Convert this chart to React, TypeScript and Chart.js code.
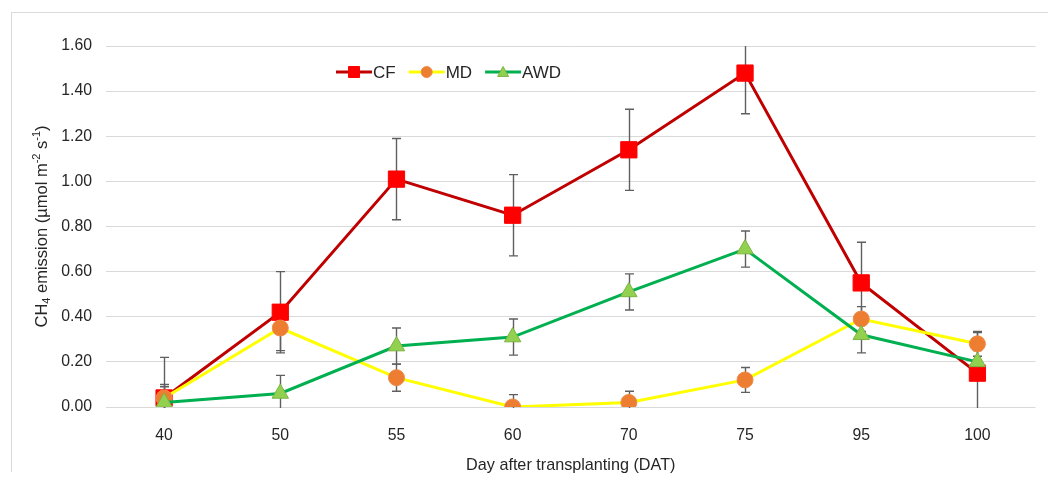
import React, { useEffect, useRef } from "react";
import { Chart, registerables } from "chart.js";

Chart.register(...registerables);

// ---- data ----
const categories = ["40", "50", "55", "60", "70", "75", "95", "100"];
const seriesNames = ["CF", "MD", "AWD"];
const cfValues = [0.04, 0.42, 1.01, 0.85, 1.14, 1.48, 0.55, 0.15];
const mdValues = [0.04, 0.35, 0.13, 0.0, 0.02, 0.12, 0.39, 0.28];
const awdValues = [0.02, 0.06, 0.27, 0.31, 0.51, 0.7, 0.32, 0.2];
const cfErrors = [0.18, 0.18, 0.18, 0.18, 0.18, 0.18, 0.18, 0.18];
const mdErrors = [0.05, 0.1, 0.06, 0.055, 0.05, 0.055, 0.055, 0.055];
const awdErrors = [0.08, 0.08, 0.08, 0.08, 0.08, 0.08, 0.08, 0.05];
const yTicks = [0, 0.2, 0.4, 0.6, 0.8, 1.0, 1.2, 1.4, 1.6];
const xTitle = "Day after transplanting (DAT)";

const FONT = "'Liberation Sans', Arial, sans-serif";
const TEXT = "#262626";
const errorsByDataset = [cfErrors, mdErrors, awdErrors];

const errorBarPlugin = {
  id: "errorBars",
  beforeDatasetsDraw(chart: any) {
    const { ctx, chartArea } = chart;
    const yScale = chart.scales.y;
    ctx.save();
    ctx.beginPath();
    ctx.rect(chartArea.left, chartArea.top, chartArea.right - chartArea.left, chartArea.bottom - chartArea.top + 1);
    ctx.clip();
    ctx.strokeStyle = "#5f5f5f";
    ctx.lineWidth = 1.4;
    chart.data.datasets.forEach((ds: any, i: number) => {
      const meta = chart.getDatasetMeta(i);
      const errs = errorsByDataset[i];
      meta.data.forEach((pt: any, j: number) => {
        const v = ds.data[j];
        const e = errs[j];
        const x = Math.round(pt.x) + 0.5;
        const yt = yScale.getPixelForValue(v + e);
        const yb = yScale.getPixelForValue(v - e);
        ctx.beginPath();
        ctx.moveTo(x, yt);
        ctx.lineTo(x, yb);
        ctx.moveTo(x - 4.5, yt);
        ctx.lineTo(x + 4.5, yt);
        ctx.moveTo(x - 4.5, yb);
        ctx.lineTo(x + 4.5, yb);
        ctx.stroke();
      });
    });
    ctx.restore();
  },
};

function drawMarker(ctx: CanvasRenderingContext2D, style: string, x: number, y: number, fill: string, stroke: string, size: number) {
  ctx.save();
  ctx.fillStyle = fill;
  ctx.strokeStyle = stroke;
  ctx.lineWidth = 1;
  ctx.beginPath();
  if (style === "rect") {
    ctx.rect(x - size / 2, y - size / 2, size, size);
  } else if (style === "circle") {
    ctx.arc(x, y, size / 2, 0, Math.PI * 2);
  } else {
    const r = size / 2;
    ctx.moveTo(x, y - r);
    ctx.lineTo(x + r, y + r * 0.8);
    ctx.lineTo(x - r, y + r * 0.8);
    ctx.closePath();
  }
  ctx.fill();
  ctx.stroke();
  ctx.restore();
}

const legendPlugin = {
  id: "customLegend",
  afterDraw(chart: any) {
    const { ctx, chartArea } = chart;
    const y = chartArea.top + 26;
    let x = chartArea.left + 230;
    ctx.save();
    ctx.font = `17px ${FONT}`;
    ctx.textBaseline = "middle";
    chart.data.datasets.forEach((ds: any) => {
      ctx.strokeStyle = ds.borderColor;
      ctx.lineWidth = 3;
      ctx.beginPath();
      ctx.moveTo(x, y);
      ctx.lineTo(x + 36, y);
      ctx.stroke();
      drawMarker(ctx, ds.pointStyle, x + 18, y, ds.pointBackgroundColor, ds.pointBorderColor, 11);
      ctx.fillStyle = TEXT;
      ctx.fillText(ds.label, x + 37, y + 1);
      x += 37 + ctx.measureText(ds.label).width + 13;
    });
    ctx.restore();
  },
};

const yTitlePlugin = {
  id: "yTitle",
  afterDraw(chart: any) {
    const { ctx, chartArea } = chart;
    const cy = (chartArea.top + chartArea.bottom) / 2;
    const segs = [
      { t: "CH", s: 0 },
      { t: "4", s: 1 },
      { t: " emission (µmol m", s: 0 },
      { t: "-2", s: -1 },
      { t: " s", s: 0 },
      { t: "-1", s: -1 },
      { t: ")", s: 0 },
    ];
    const fontFor = (s: number) => (s === 0 ? `16.5px ${FONT}` : `11px ${FONT}`);
    ctx.save();
    ctx.translate(46.5, cy);
    ctx.rotate(-Math.PI / 2);
    ctx.textBaseline = "alphabetic";
    ctx.textAlign = "left";
    ctx.fillStyle = TEXT;
    let total = 0;
    segs.forEach((sg) => {
      ctx.font = fontFor(sg.s);
      total += ctx.measureText(sg.t).width;
    });
    let x = -total / 2;
    segs.forEach((sg) => {
      ctx.font = fontFor(sg.s);
      const dy = sg.s === 1 ? 3 : sg.s === -1 ? -6.5 : 0;
      ctx.fillText(sg.t, x, dy);
      x += ctx.measureText(sg.t).width;
    });
    ctx.restore();
  },
};

export default function App() {
  const ref = useRef<HTMLCanvasElement>(null);
  useEffect(() => {
    if (!ref.current) return;
    const chart = new Chart(ref.current, {
      type: "line",
      data: {
        labels: categories,
        datasets: [
          {
            label: seriesNames[0],
            data: cfValues,
            borderColor: "#C00000",
            borderWidth: 3,
            pointStyle: "rect",
            pointRadius: 11.5,
            pointBackgroundColor: "#FF0000",
            pointBorderColor: "#FF0000",
            pointBorderWidth: 1,
            tension: 0,
            fill: false,
            order: 3,
          },
          {
            label: seriesNames[1],
            data: mdValues,
            borderColor: "#FFFF00",
            borderWidth: 3,
            pointStyle: "circle",
            pointRadius: 8,
            pointBackgroundColor: "#ED7D31",
            pointBorderColor: "#F08A45",
            pointBorderWidth: 1,
            tension: 0,
            fill: false,
            order: 2,
          },
          {
            label: seriesNames[2],
            data: awdValues,
            borderColor: "#00B050",
            borderWidth: 3,
            pointStyle: "triangle",
            pointRadius: 9.5,
            pointBackgroundColor: "#92D050",
            pointBorderColor: "#7CB342",
            pointBorderWidth: 1,
            tension: 0,
            fill: false,
            order: 1,
          },
        ] as any,
      },
      options: {
        responsive: false,
        animation: false,
        events: [],
        layout: { padding: { left: 0, right: 11, top: 46, bottom: 0 } },
        plugins: {
          legend: { display: false },
          tooltip: { enabled: false },
        },
        scales: {
          x: {
            type: "category",
            offset: true,
            grid: { display: false },
            border: { display: false },
            ticks: { color: TEXT, font: { family: FONT, size: 15.8 }, padding: 11 },
            title: {
              display: true,
              text: xTitle,
              color: TEXT,
              font: { family: FONT, size: 16.2 },
              padding: { top: 0, bottom: 6 },
            },
            afterFit: (scale: any) => {
              scale.height = 74;
            },
          },
          y: {
            min: 0,
            max: 1.6,
            grid: { color: "#D9D9D9", lineWidth: 1, drawTicks: false },
            border: { display: false },
            ticks: {
              color: TEXT,
              font: { family: FONT, size: 15.8 },
              padding: 14,
              callback: (v: any) => Number(v).toFixed(2),
            },
            afterBuildTicks: (scale: any) => {
              scale.ticks = yTicks.map((v) => ({ value: v }));
            },
            afterFit: (scale: any) => {
              scale.width = 106;
            },
          },
        },
      } as any,
      plugins: [errorBarPlugin, legendPlugin, yTitlePlugin],
    });
    return () => chart.destroy();
  }, []);

  return (
    <div
      style={{
        position: "fixed",
        left: 0,
        top: 0,
        width: 1048,
        height: 481,
        overflow: "hidden",
        background: "#fff",
      }}
    >
      <div
        style={{
          position: "absolute",
          left: 11,
          top: 12,
          width: 1100,
          height: 459,
          borderLeft: "1px solid #D9D9D9",
          borderTop: "1px solid #D9D9D9",
        }}
      />
      <canvas ref={ref} width={1048} height={481} style={{ position: "absolute", left: 0, top: 0 }} />
    </div>
  );
}
